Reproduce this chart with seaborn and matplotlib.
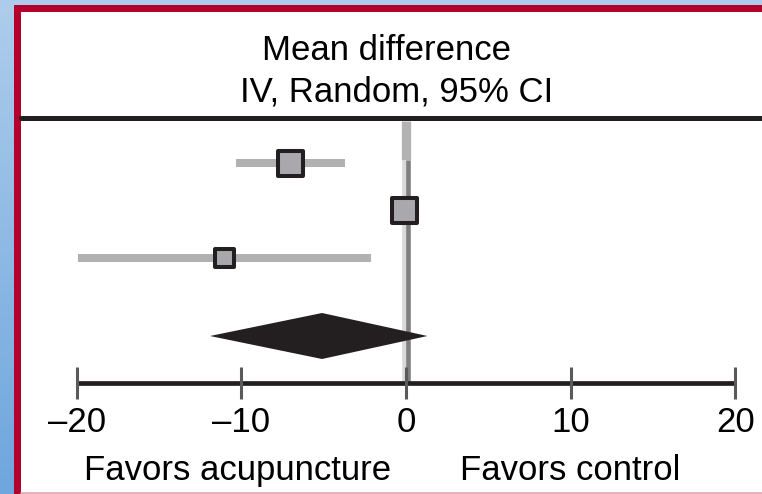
import matplotlib
matplotlib.use("Agg")
import matplotlib.pyplot as plt
import numpy as np
import pandas as pd
import seaborn as sns
from matplotlib.colors import LinearSegmentedColormap
from matplotlib.patches import Rectangle

# ---- data ----
study_md = [-7.0, -0.1, -11.0]
study_lo = [-10.3, -0.6, -19.9]
study_hi = [-3.7, 0.5, -2.1]
study_weight = [39, 39, 22]
pooled_md = -5.1
pooled_lo = -11.9
pooled_hi = 1.3
tick_values = [-20, -10, 0, 10, 20]
tick_labels = ["\u201320", "\u201310", "0", "10", "20"]
header_lines = ["Mean difference", "IV, Random, 95% CI"]
favor_labels = ["Favors acupuncture", "Favors control"]

# ---- layout (pixels of the 762x494 canvas) ----
W, H = 762, 494
ZERO_PX = 406
PX_PER_UNIT = 16.47
ROW_Y = [163, 210, 258]
POOLED_Y = 336
AXIS_Y = 383
HEADER_Y = 118.5
PT = 0.72  # points per pixel at dpi 100

C_DARK = "#231f20"
C_BOX = "#a9a9ad"
C_CI = "#b1b1b1"


def px2x(px):
    return (px - ZERO_PX) / PX_PER_UNIT


sns.set_theme(style="white")
plt.rcParams["font.family"] = ["Liberation Sans", "DejaVu Sans"]

fig = plt.figure(figsize=(W / 100, H / 100), dpi=100)

# background: blue window, red frame, white panel
bg = fig.add_axes([0, 0, 1, 1])
bg.set_xlim(0, W)
bg.set_ylim(H, 0)
bg.axis("off")
grad = np.linspace(0, 1, 256).reshape(-1, 1)
cmap = LinearSegmentedColormap.from_list("win", ["#aecdec", "#6ea6dd"])
bg.imshow(grad, cmap=cmap, extent=(0, W, H, 0), aspect="auto")
bg.add_patch(Rectangle((14, 5), W - 14, H - 5, color="#b3002d", lw=0))
bg.add_patch(Rectangle((21, 12), W - 21, H - 12, color="white", lw=0))
bg.plot([21, W], [492.5, 492.5], color="#e3a3ad", lw=1.2)

ax = fig.add_axes([0, 0, 1, 1])
ax.set_facecolor("none")
ax.set_xlim(px2x(0), px2x(W))
ax.set_ylim(H, 0)
ax.axis("off")

# header
ax.axhline(HEADER_Y, xmin=21 / W, xmax=1, color=C_DARK, lw=5 * PT)
ax.text(px2x(387), 60, header_lines[0], ha="center", va="baseline", fontsize=25, color="black")
ax.text(px2x(397), 101, header_lines[1], ha="center", va="baseline", fontsize=25, color="black")

# line of no effect
off = 2.3 / PX_PER_UNIT
ax.plot([0, 0], [121, 160], color="#b3b3b3", lw=9.3 * PT, solid_capstyle="butt", zorder=1)
ax.plot([-off, -off], [160, AXIS_Y], color="#d9d9d9", lw=4.6 * PT, solid_capstyle="butt", zorder=1)
ax.plot([off, off], [160, AXIS_Y], color="#7f7f7f", lw=4.6 * PT, solid_capstyle="butt", zorder=1)

# study CIs and squares
ax.hlines(ROW_Y, study_lo, study_hi, color=C_CI, lw=8 * PT, zorder=2)
df = pd.DataFrame({"md": study_md, "y": ROW_Y, "w": study_weight})
sns.scatterplot(data=df, x="md", y="y", size="w", sizes=(183, 324), marker="s",
                color=C_BOX, edgecolor=C_DARK, linewidth=2.9, legend=False, ax=ax, zorder=3)
ax.set_xlim(px2x(0), px2x(W))
ax.set_ylim(H, 0)
ax.axis("off")

# pooled diamond
half_h = 23
ax.fill([pooled_lo, pooled_md, pooled_hi, pooled_md],
        [POOLED_Y, POOLED_Y - half_h, POOLED_Y, POOLED_Y + half_h],
        color=C_DARK, lw=0, zorder=4)

# x axis
ax.plot([tick_values[0], tick_values[-1]], [AXIS_Y, AXIS_Y], color=C_DARK, lw=4.7 * PT,
        solid_capstyle="butt", zorder=4)
ax.vlines(tick_values, 367, 399, color="#5a5a5a", lw=2.2, zorder=4)
for t, lab in zip(tick_values, tick_labels):
    ax.text(t, 432, lab, ha="center", va="baseline", fontsize=25, color="black")

ax.text(px2x(238), 480, favor_labels[0], ha="center", va="baseline", fontsize=25, color="black")
ax.text(px2x(570), 480, favor_labels[1], ha="center", va="baseline", fontsize=25, color="black")

fig.savefig("out.png", dpi=100)
